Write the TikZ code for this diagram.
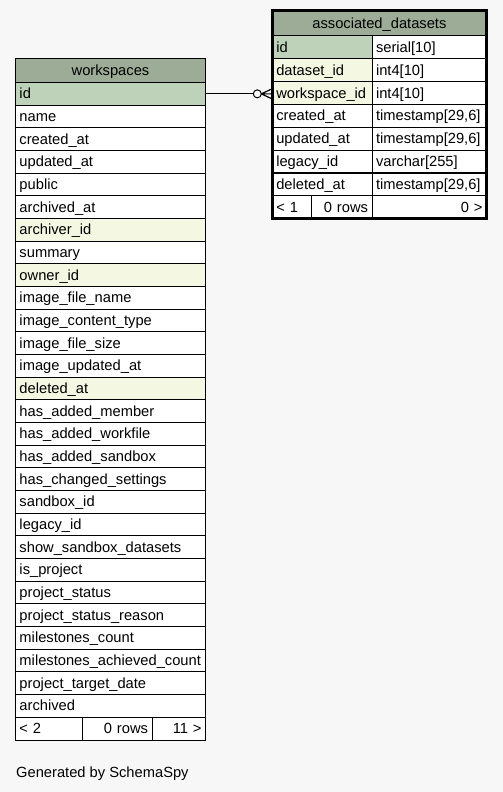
\documentclass[tikz,border=0pt]{standalone}
\usepackage{fontspec}
\setmainfont{Liberation Sans}
\usetikzlibrary{calc}

\definecolor{bggray}{HTML}{F7F7F7}
\definecolor{hdrgreen}{HTML}{9CAC96}
\definecolor{pkgreen}{HTML}{BED2B9}
\definecolor{fkyellow}{HTML}{F4F7E2}

\tikzset{
  cell/.style={draw, line width=1pt, fill=white, anchor=north west, inner xsep=4pt, inner ysep=0pt,
    outer sep=0pt, minimum height=22.7pt, text height=11.8pt, text depth=1.8pt, align=left,
    font=\fontsize{14.7}{16}\selectfont},
  hdr/.style={cell, fill=hdrgreen, align=center},
}

\begin{document}
\begin{tikzpicture}[x=1pt, y=-1pt]
  \fill[bggray] (0,0) rectangle (503,792);

  % workspaces
  \node[hdr, text width=182pt, minimum height=24pt] (ws-h) at (15.5,58.5) {workspaces};
  \foreach \colname/\colfill [count=\i] in {id/pkgreen, name/white, created\_at/white,
      updated\_at/white, public/white, archived\_at/white, archiver\_id/fkyellow,
      summary/white, owner\_id/fkyellow, image\_file\_name/white,
      image\_content\_type/white, image\_file\_size/white, image\_updated\_at/white,
      deleted\_at/fkyellow, has\_added\_member/white, has\_added\_workfile/white,
      has\_added\_sandbox/white, has\_changed\_settings/white, sandbox\_id/white,
      legacy\_id/white, show\_sandbox\_datasets/white, is\_project/white,
      project\_status/white, project\_status\_reason/white, milestones\_count/white,
      milestones\_achieved\_count/white, project\_target\_date/white, archived/white}
    \node[cell, fill=\colfill, text width=182pt] (ws-\i) at (15.5,{82.5+(\i-1)*22.67}) {\colname};
  \node[cell, text width=59pt] (ws-f1) at (15.5,717.3) {< 2};
  \node[cell, text width=61.5pt, align=right] (ws-f2) at (ws-f1.north east) {0 rows};
  \node[cell, text width=45.5pt, align=right] (ws-f3) at (ws-f2.north east) {11 >};

  % associated_datasets
  \node[hdr, text width=206.2pt, minimum height=25.7pt] (ad-h) at (272.3,10.3) {associated\_datasets};
  \foreach \colname/\coltype/\colfill [count=\i] in {id/serial[10]/pkgreen,
      dataset\_id/int4[10]/fkyellow, workspace\_id/int4[10]/fkyellow,
      created\_at/{timestamp[29,6]}/white, updated\_at/{timestamp[29,6]}/white,
      legacy\_id/varchar[255]/white, deleted\_at/{timestamp[29,6]}/white} {
    \node[cell, fill=\colfill, text width=91.7pt] (ad-\i) at (272.3,{36+(\i-1)*22.84}) {\colname};
    \node[cell, text width=106.5pt] (ad-\i t) at (ad-\i.north east) {\coltype};
  }
  \node[cell, text width=31.4pt] (ad-f1) at (272.3,195.9) {< 1};
  \node[cell, text width=52.3pt, align=right] (ad-f2) at (ad-f1.north east) {0 rows};
  \node[cell, text width=106.5pt, align=right] (ad-f3) at (ad-f2.north east) {0 >};
  \draw[line width=2.7pt] (ad-h.north west) rectangle (ad-f3.south east);

  % workspace_id -> id
  \coordinate (fk) at (ws-1.east -| ad-3.west);
  \draw[line width=1pt] (ws-1.east) -- ($(fk)+(-19,0)$);
  \draw[line width=1pt, fill=bggray] ($(fk)+(-15,0)$) circle (4);
  \draw[line width=1.2pt] ($(fk)+(-11,0)$) -- ($(fk)+(-1.4,-4.5)$)
    ($(fk)+(-11,0)$) -- ($(fk)+(-1.4,0)$)
    ($(fk)+(-11,0)$) -- ($(fk)+(-1.4,4.5)$);

  \node[anchor=base west, font=\fontsize{14.7}{16}\selectfont, inner sep=0pt] (gen) at (16,777) {Generated by SchemaSpy};
\end{tikzpicture}
\end{document}
